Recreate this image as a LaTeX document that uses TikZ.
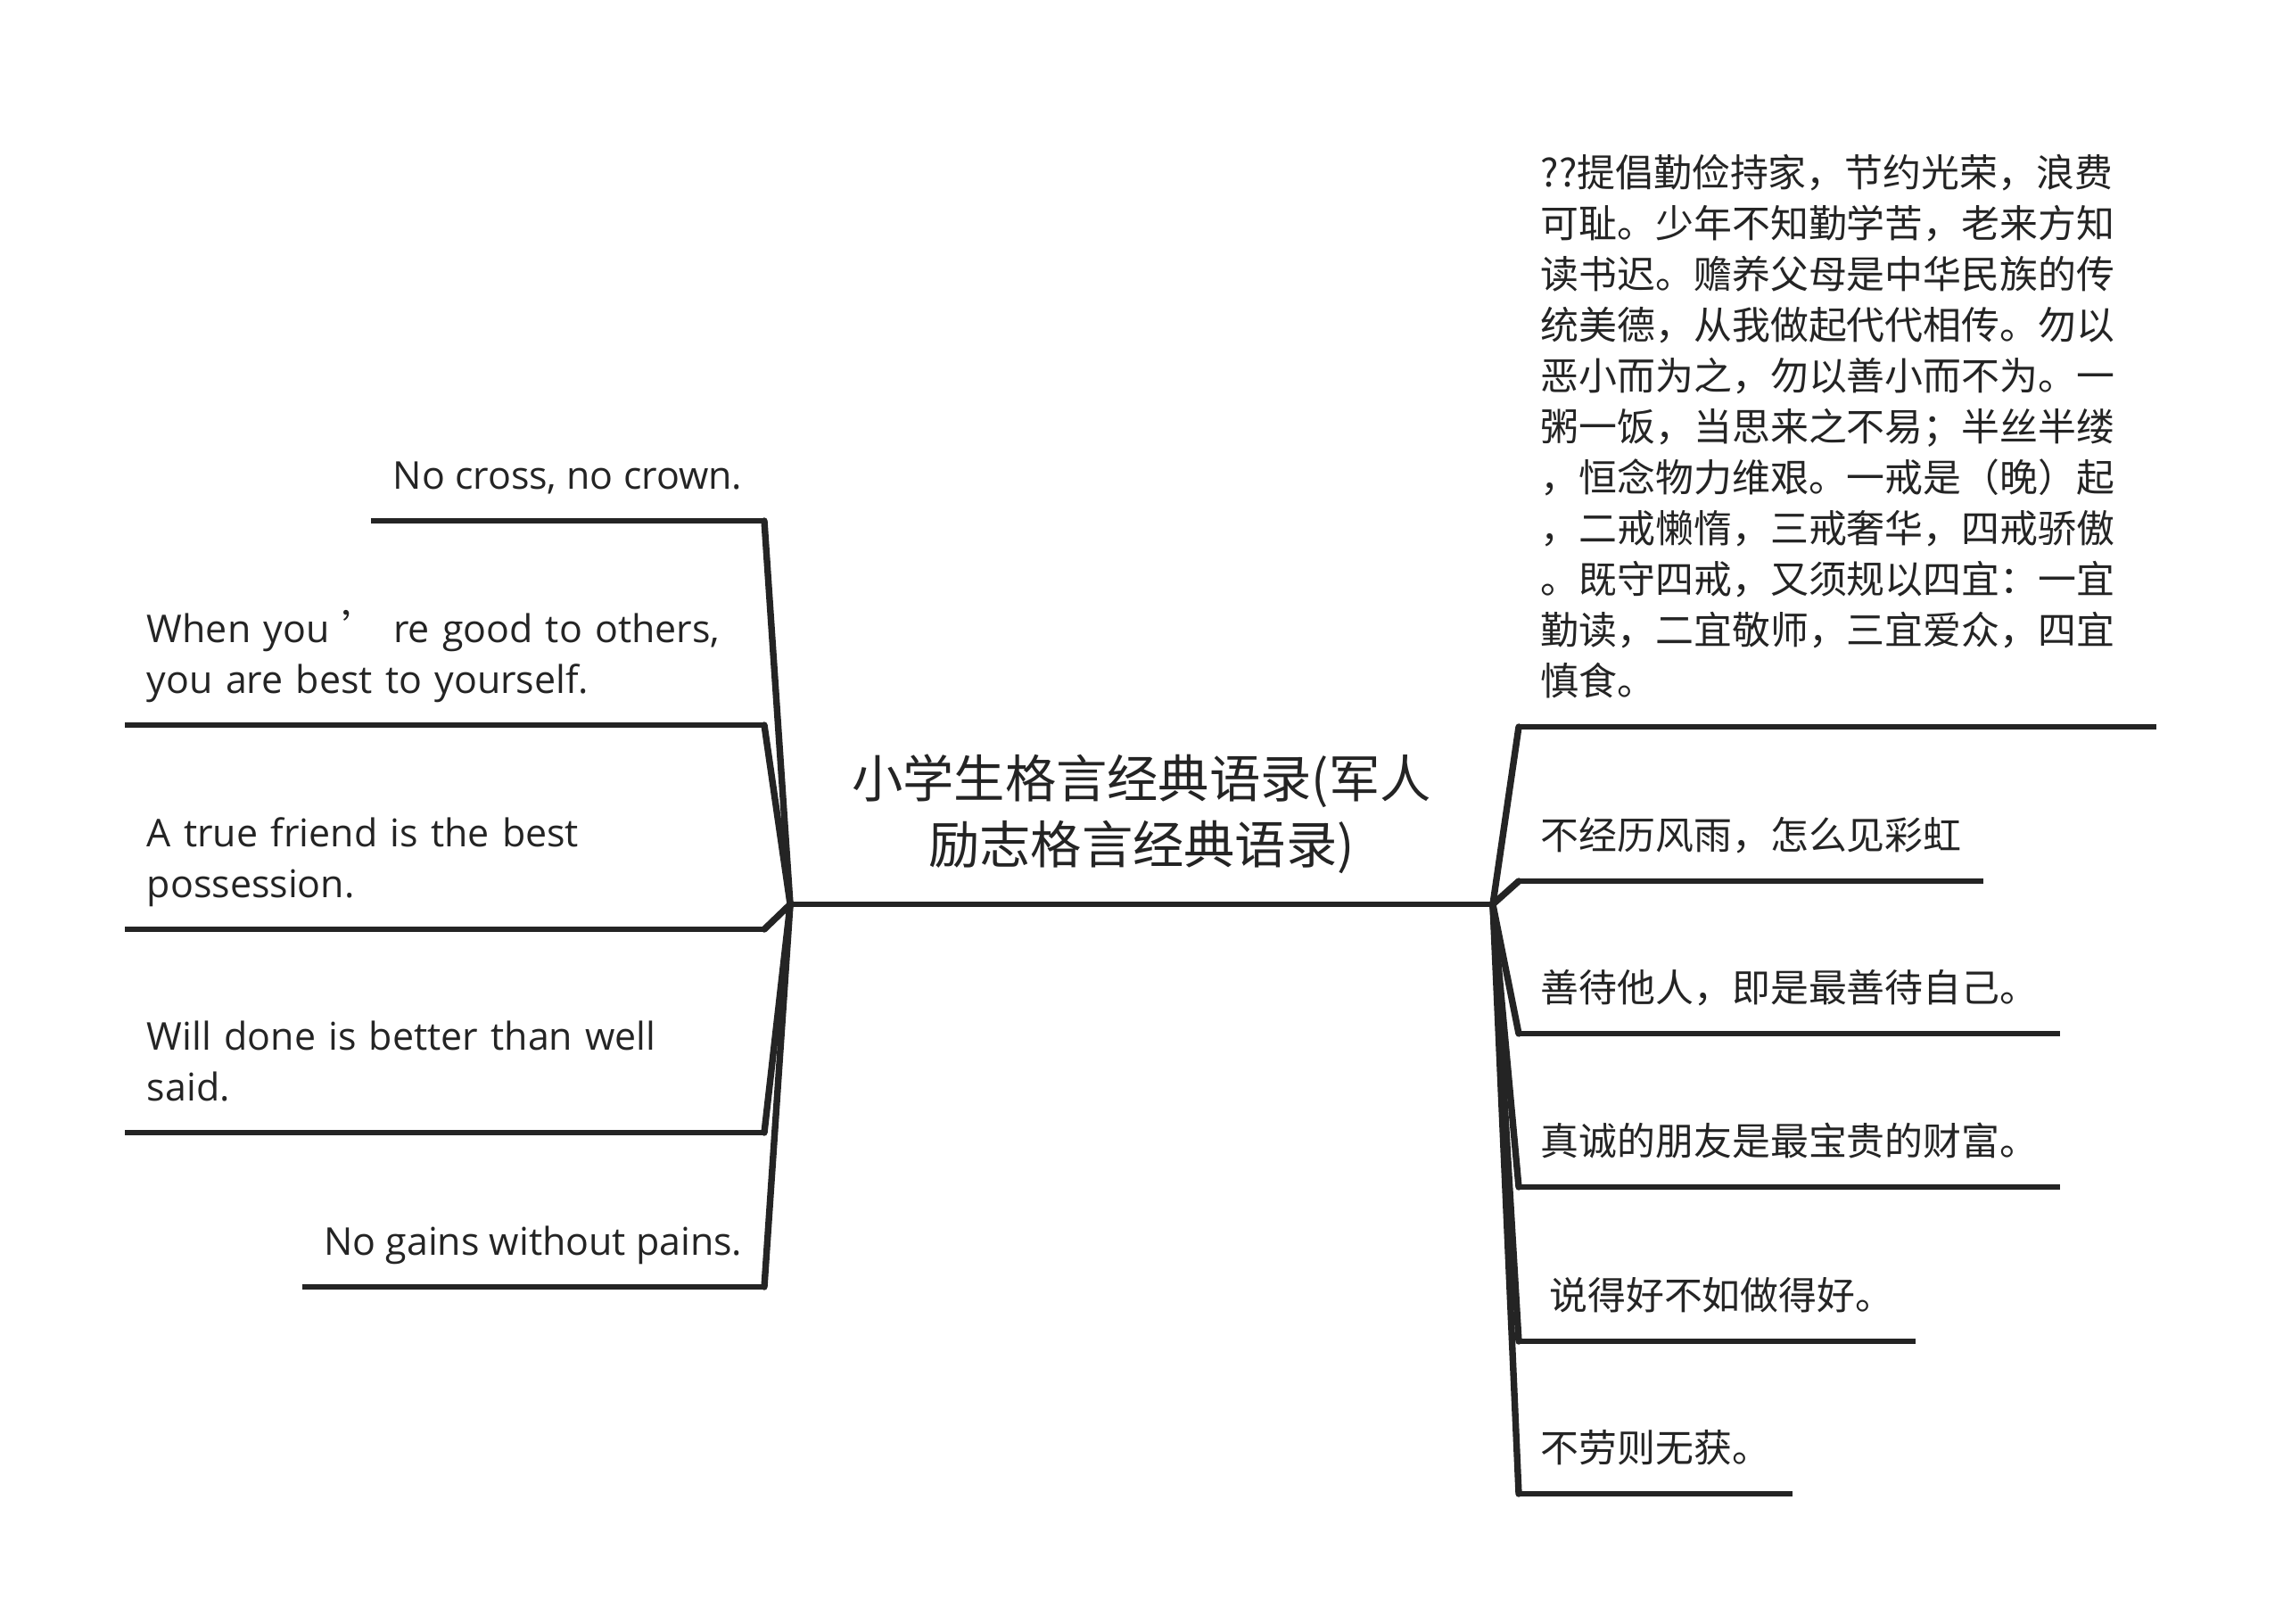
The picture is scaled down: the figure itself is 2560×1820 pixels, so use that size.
\documentclass[tikz,border=0pt]{standalone}
\usepackage{fontspec}
\usepackage{xcolor}
\usepackage{tikz}
\setmainfont{Open Sans}
\newfontfamily\cjk{Noto Sans CJK SC}
\definecolor{inkgray}{HTML}{242424}
\newcommand{\leafsize}{\fontsize{12.2pt}{16.2pt}\selectfont}
\newcommand{\rootsize}{\fontsize{16.3pt}{21pt}\selectfont}

\begin{document}
\begin{tikzpicture}[x=0.01cm,y=-0.01cm,
  leaf/.style={inner xsep=0.24cm,inner ysep=0.18cm,execute at end node=\strut,text=inkgray,align=left,font=\leafsize},
  lleaf/.style={leaf,anchor=south east},
  rleaf/.style={leaf,anchor=south west,font=\leafsize\cjk},
  topic/.style={anchor=south,minimum width=7.86cm,inner xsep=0pt,inner ysep=0.23cm,execute at end node=\strut,text=inkgray,align=center,font=\rootsize\cjk},
  uline/.style={draw=inkgray,line width=1.5pt},
  link/.style={draw=inkgray,line width=2.1pt,line cap=round,line join=round},
  trunk/.style={draw=inkgray,line width=1.8pt},
]
\useasboundingbox[fill=white] (0,0) rectangle (2560,1820);
% central topic
\node[topic] (root) at (1280,1014) {小学生格言经典语录(军人\\励志格言经典语录)};
\draw[trunk] (root.south west) -- (root.south east);
% left branches
\node[lleaf] (l1) at (857,584) {No cross, no crown.};
\node[lleaf,text width=6.67cm] (l2) at (857,813) {When you {\cjk ’} re good to others,\\you are best to yourself.};
\node[lleaf,text width=6.67cm] (l3) at (857,1042) {A true friend is the best\\possession.};
\node[lleaf,text width=6.67cm] (l4) at (857,1270) {Will done is better than well\\said.};
\node[lleaf] (l5) at (857,1443) {No gains without pains.};
% right branches
\node[rleaf,text width=6.65cm] (r1) at (1703,815) {??提倡勤俭持家，节约光荣，浪费\\可耻。少年不知勤学苦，老来方知\\读书迟。赡养父母是中华民族的传\\统美德，从我做起代代相传。勿以\\恶小而为之，勿以善小而不为。一\\粥一饭，当思来之不易；半丝半缕\\，恒念物力维艰。一戒是（晚）起\\，二戒懒惰，三戒奢华，四戒骄傲\\。既守四戒，又须规以四宜：一宜\\勤读，二宜敬师，三宜爱众，四宜\\慎食。};
\node[rleaf] (r2) at (1703,988) {不经历风雨，怎么见彩虹};
\node[rleaf] (r3) at (1703,1159) {善待他人，即是最善待自己。};
\node[rleaf] (r4) at (1703,1331) {真诚的朋友是最宝贵的财富。};
\node[rleaf] (r5) at (1703,1504) {\ 说得好不如做得好。};
\node[rleaf] (r6) at (1703,1675) {不劳则无获。};
% underlines and connectors
\foreach \i in {1,...,5}{ \draw[uline] (l\i.south west) -- (l\i.south east); \draw[link] (l\i.south east) -- (root.south west);}
\foreach \i in {1,...,6}{ \draw[uline] (r\i.south west) -- (r\i.south east); \draw[link] (root.south east) -- (r\i.south west);}
\end{tikzpicture}
\end{document}
